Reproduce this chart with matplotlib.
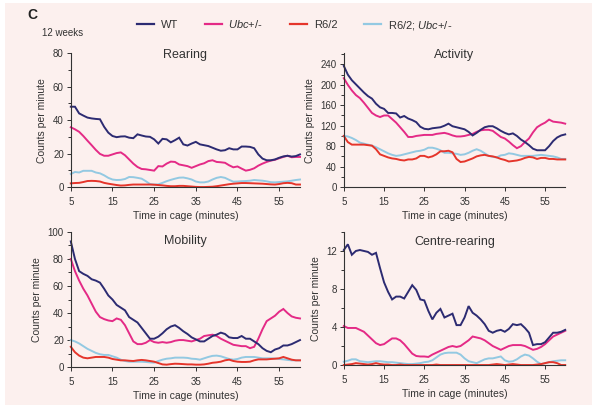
import numpy as np
import matplotlib
matplotlib.use("Agg")
import matplotlib.pyplot as plt
from matplotlib.patches import Rectangle
from matplotlib.ticker import MultipleLocator

plt.rcParams['font.family'] = ['Liberation Sans', 'DejaVu Sans']
plt.rcParams['mathtext.fontset'] = 'custom'
plt.rcParams['mathtext.it'] = 'Liberation Sans:italic'
plt.rcParams['mathtext.rm'] = 'Liberation Sans'

# time in cage, one value per minute
minutes = np.arange(5, 61)

groups = ['WT', '$\\mathit{Ubc}$+/-', 'R6/2', 'R6/2; $\\mathit{Ubc}$+/-']
colors = ['#2c2b72', '#e42a86', '#e5352b', '#93c9e2']

# Rearing
rear_wt = [48, 48, 44, 42.7, 41.5, 41, 40.7, 40.5, 36, 32.5,
           30.5, 29.8, 30.2, 30.3, 29.5, 29.2, 31.5, 30.8, 30.2, 30,
           28.5, 26, 28.8, 28.5, 26.7, 28, 29.5, 25.5, 24.8, 26,
           27, 25.5, 25, 24.5, 23.5, 22.5, 21.7, 22, 23.2, 22.5,
           22.5, 24.2, 24.2, 24, 23.2, 19.5, 17, 16, 16, 16.5,
           17.5, 18.3, 18.7, 18.2, 18.5, 19.5]
rear_ubc = [35.7, 34.5, 33, 30.5, 27.7, 25, 22.2, 19.8, 18.7, 18.7,
            19.5, 20.3, 20.7, 19, 16.5, 14, 12, 10.8, 10.6, 10.2,
            9.8, 12.5, 12.3, 14, 15.2, 15, 13.5, 13, 12.5, 11.5,
            12.5, 13.5, 14.2, 15.5, 16, 15, 14.8, 14.5, 13, 11.8,
            12.3, 11, 9.8, 10.3, 11.2, 12.8, 14, 15, 15.8, 16.3,
            17.2, 18, 18.7, 17.8, 18, 18]
rear_r62 = [2.2, 2.4, 2.5, 3, 3.6, 3.7, 3.6, 3.3, 2.5, 2,
            1.6, 1.2, 0.9, 1, 1.3, 1.5, 1.5, 1.5, 1.5, 1.5,
            1.4, 1.2, 1, 0.7, 0.5, 0.5, 0.7, 0.7, 0.5, 0.3,
            0.1, 0, 0, 0.1, 0.2, 0.5, 0.9, 1.3, 1.7, 2,
            2.2, 2.4, 2.4, 2.3, 2.2, 2.1, 2, 1.8, 1.6, 1.5,
            1.8, 2.3, 2.5, 2.3, 1.5, 1.5]
rear_dbl = [7.8, 9, 8.7, 9.7, 9.7, 9.7, 8.7, 8.2, 7, 5.5,
            4.5, 4.2, 4.3, 4.8, 6, 5.9, 5.5, 5, 3.5, 1.8,
            1.5, 1.6, 2.5, 3.5, 4.3, 5, 5.6, 5.7, 5.2, 4.5,
            3.3, 2.8, 2.8, 3.3, 4.5, 5.5, 6, 5.5, 4.3, 3.2,
            3.3, 3.5, 3.6, 3.8, 4.2, 4, 3.8, 3.4, 2.9, 2.8,
            3, 3.2, 3.4, 3.8, 4.2, 4.5]

# Activity
act_wt = [237, 220, 209, 201, 193, 185, 178, 173, 163, 156,
          153, 145, 145, 144, 136, 139, 134, 131, 127, 118,
          114, 113, 115, 116, 117, 120, 124, 119, 117, 115,
          113, 108, 101, 106, 112, 117, 119, 119, 115, 110,
          106, 103, 105, 100, 93, 88, 82, 75, 72, 72,
          72, 80, 90, 97, 101, 103]
act_ubc = [213, 200, 189, 180, 174, 165, 155, 145, 140, 137,
           140, 140, 133, 126, 117, 108, 98, 98, 100, 101,
           102, 102, 102, 104, 105, 106, 104, 101, 99, 99,
           100, 102, 104, 108, 111, 112, 112, 110, 104, 98,
           95, 89, 82, 76, 80, 88, 95, 107, 117, 122,
           126, 132, 128, 127, 126, 124]
act_r62 = [100, 88, 83, 83, 83, 83, 82, 81, 74, 64,
           61, 58, 56, 55, 53, 52, 54, 54, 56, 61,
           61, 58, 60, 64, 70, 70, 71, 68, 55, 49,
           50, 53, 56, 60, 62, 63, 61, 60, 58, 55,
           53, 50, 51, 52, 54, 57, 59, 58, 55, 57,
           57, 55, 55, 54, 54, 54]
act_dbl = [100, 99, 96, 92, 87, 85, 83, 81, 78, 74,
           70, 66, 63, 61, 62, 64, 66, 68, 70, 71,
           73, 77, 77, 75, 72, 67, 67, 66, 65, 63,
           64, 67, 71, 74, 71, 66, 61, 59, 58, 62,
           63, 66, 65, 63, 61, 61, 61, 61, 62, 63,
           62, 61, 60, 58, 55, 55]

# Mobility
mob_wt = [93, 80, 71, 69, 67.5, 65, 64, 62.5, 58, 53,
          50, 46, 44, 42, 37, 35, 33, 29, 25, 21,
          21, 22.5, 25, 28, 30, 31, 29, 26.5, 24.5, 22,
          20.5, 19, 19, 21, 23, 24, 25.5, 24.5, 22, 21.5,
          21.5, 23, 21, 21, 19, 17, 14, 12, 11, 13,
          14, 16, 16, 17, 18.5, 20]
mob_ubc = [80, 71, 64, 58, 53, 47, 41, 37, 35.5, 34.5,
           34, 36, 35, 31, 25, 19, 17, 17, 18, 20,
           18.5, 18, 18.5, 18, 18.5, 19.5, 20, 20, 19.5, 19,
           20, 21, 23, 23.5, 24, 23, 21, 19.5, 18, 16.5,
           16, 15.5, 15.5, 14, 15, 21, 28, 34, 36, 38,
           41, 43, 40, 37.5, 36.5, 36]
mob_r62 = [15, 11, 8.5, 7, 6.5, 7, 7.5, 7.5, 7.5, 7,
           6, 5.5, 5, 5, 4.7, 4.5, 5, 5.3, 5, 4.5,
           4, 3, 2, 1.8, 2.2, 2.5, 2.4, 2.2, 2, 2,
           1.8, 1.8, 2, 2.5, 3.2, 3.5, 4, 5, 5.5, 4.5,
           4, 3.8, 3.8, 4, 5, 5.7, 5.7, 5.7, 6, 6.2,
           6.5, 7.5, 6.5, 5.5, 5, 5]
mob_dbl = [20, 19, 17.5, 15.5, 13.5, 12, 10.5, 9.5, 9, 9,
           8, 7, 5.5, 4.5, 4, 4, 4, 4, 3.8, 3.5,
           3.3, 4.5, 5.5, 6.2, 6.5, 7, 7, 7, 6.8, 6.2,
           6, 5.5, 6.5, 7.5, 8.3, 8.5, 8, 7, 6, 5.5,
           6, 7, 7.5, 7.5, 7.5, 7, 6.5, 6.5, 6.5, 6.3,
           6, 5.7, 5.3, 5, 5, 5]

# Centre-rearing
cr_wt = [12.1, 12.7, 11.6, 12, 12.1, 12, 11.9, 11.6, 11.8, 10.2,
         8.7, 7.7, 6.9, 7.2, 7.2, 7, 7.7, 8.4, 7.9, 6.9,
         6.8, 5.7, 4.8, 5.5, 5.9, 5, 5.2, 5.4, 4.2, 4.2,
         5, 6.2, 5.5, 5.2, 4.8, 4.3, 3.6, 3.4, 3.6, 3.7,
         3.5, 3.8, 4.3, 4.2, 4.3, 3.9, 3.4, 2.1, 2.2, 2.2,
         2.4, 2.9, 3.4, 3.4, 3.5, 3.7]
cr_ubc = [4.1, 3.9, 3.9, 3.9, 3.7, 3.5, 3.1, 2.7, 2.3, 2.1,
          2.2, 2.5, 2.8, 2.8, 2.6, 2.2, 1.7, 1.2, 0.95, 0.9,
          0.9, 0.85, 1.1, 1.3, 1.5, 1.7, 1.9, 2, 1.9, 2,
          2.3, 2.6, 3, 2.9, 2.8, 2.6, 2.3, 2, 1.8, 1.6,
          1.8, 2, 2.1, 2.1, 2.1, 2, 1.8, 1.6, 1.7, 1.9,
          2.2, 2.6, 3, 3.2, 3.4, 3.6]
cr_r62 = [0, 0.05, 0.1, 0.2, 0.15, 0.1, 0.05, 0.1, 0.2, 0.1,
          0.05, 0.05, 0, 0, 0.05, 0, 0, 0, 0, 0,
          0, 0, 0, 0.05, 0, 0, 0, 0, 0, 0,
          0, 0, 0, 0, 0, 0, 0, 0.05, 0.1, 0.05,
          0, 0.05, 0.1, 0.05, 0, 0, 0, 0, 0.05, 0.1,
          0.2, 0.3, 0.3, 0.2, 0, 0]
cr_dbl = [0.35, 0.45, 0.6, 0.6, 0.4, 0.35, 0.3, 0.35, 0.4, 0.4,
          0.35, 0.3, 0.3, 0.25, 0.2, 0.15, 0.1, 0.1, 0.15, 0.2,
          0.3, 0.35, 0.5, 0.8, 1.1, 1.25, 1.3, 1.3, 1.3, 1.1,
          0.7, 0.4, 0.3, 0.2, 0.4, 0.6, 0.7, 0.7, 0.8, 0.9,
          0.5, 0.35, 0.4, 0.6, 0.9, 1.1, 1, 0.7, 0.35, 0.1,
          0.2, 0.3, 0.4, 0.45, 0.5, 0.5]

panels = [
    ('Rearing', [rear_wt, rear_ubc, rear_r62, rear_dbl], 80, 80, 20, 10),
    ('Activity', [act_wt, act_ubc, act_r62, act_dbl], 262, 240, 40, 20),
    ('Mobility', [mob_wt, mob_ubc, mob_r62, mob_dbl], 100, 100, 20, 10),
    ('Centre-rearing', [cr_wt, cr_ubc, cr_r62, cr_dbl], 14, 12, 4, 2),
]
# axes boxes in figure fractions, and title height inside each axes
boxes = [
    [0.118, 0.546, 0.382, 0.325],
    [0.573, 0.546, 0.369, 0.325],
    [0.118, 0.109, 0.382, 0.328],
    [0.573, 0.114, 0.369, 0.323],
]
title_y = [0.985, 0.985, 0.935, 0.925]
ink = '#333333'

fig = plt.figure(figsize=(6, 4.12), dpi=100, facecolor='white')
fig.patches.append(Rectangle((0.008, 0.017), 0.979, 0.976, transform=fig.transFigure,
                             facecolor='#fcf0ee', edgecolor='none', zorder=-10))

for (title, series, ymax, ytop, major, minor), box, ty in zip(panels, boxes, title_y):
    ax = fig.add_axes(box)
    ax.set_facecolor('none')
    # draw background groups first so WT sits on top
    for i in [3, 2, 1, 0]:
        ax.plot(minutes, series[i], color=colors[i], lw=1.4, solid_joinstyle='miter',
                clip_on=False)
    ax.set_xticks([5, 15, 25, 35, 45, 55])
    ax.set_yticks(np.arange(0, ytop + 0.1, major))
    ax.yaxis.set_minor_locator(MultipleLocator(minor))
    ax.set_xlim(5, 60)
    ax.set_ylim(0, ymax)
    for s in ['top', 'right']:
        ax.spines[s].set_visible(False)
    for s in ['left', 'bottom']:
        ax.spines[s].set_color(ink)
        ax.spines[s].set_linewidth(0.8)
    ax.tick_params(axis='both', which='major', length=3, width=0.7, color=ink,
                   labelsize=7, labelcolor=ink, pad=2)
    ax.tick_params(axis='x', which='major', pad=4)
    ax.tick_params(axis='y', which='minor', length=2, width=0.7, color=ink)
    ax.set_ylabel('Counts per minute', fontsize=7.5, color=ink, labelpad=4)
    ax.set_xlabel('Time in cage (minutes)', fontsize=7.5, color=ink, labelpad=3)
    ax.text(0.5, ty, title, transform=ax.transAxes, ha='center', va='center',
            fontsize=9, color=ink)

fig.text(0.045, 0.963, 'C', fontsize=10, fontweight='bold', color='#222222', va='center')
fig.text(0.07, 0.92, '12 weeks', fontsize=7, color=ink, va='center')

handles = [plt.Line2D([], [], color=c, lw=1.6) for c in colors]
fig.legend(handles, groups, loc='center left', bbox_to_anchor=(0.228, 0.939), ncol=4,
           frameon=False, fontsize=8, handlelength=1.55, handletextpad=0.6,
           columnspacing=2.4, borderpad=0, borderaxespad=0, labelcolor=ink)

fig.savefig('out.png', dpi=100, facecolor=fig.get_facecolor())
